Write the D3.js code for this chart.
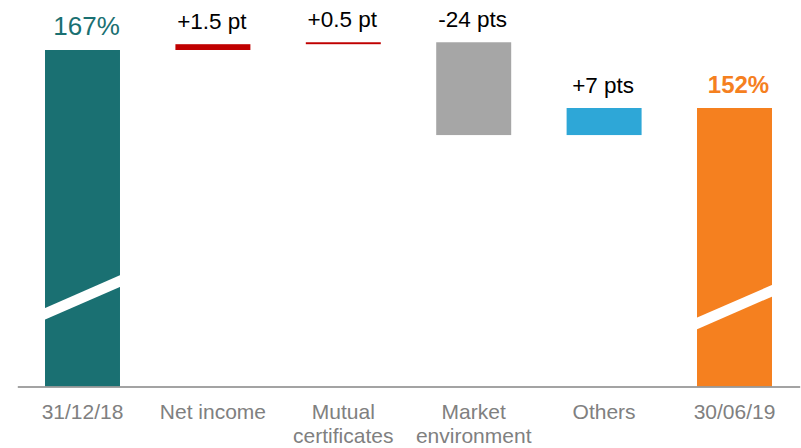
<!DOCTYPE html>
<html><head><meta charset="utf-8">
<script src="https://cdn.jsdelivr.net/npm/d3@7"></script>
<style>
html,body{margin:0;padding:0;background:#fff;}
svg text{font-family:"Liberation Sans",Arial,sans-serif;}
</style></head>
<body>
<svg id="chart" width="801" height="448"></svg>
<script>
const categories = [["31/12/18"], ["Net income"], ["Mutual", "certificates"], ["Market", "environment"], ["Others"], ["30/06/19"]];
const kinds = ["total", "delta", "delta", "delta", "delta", "total"];
const values = [167, 1.5, 0.5, -24, 7, 152];
const valueLabels = ["167%", "+1.5 pt", "+0.5 pt", "-24 pts", "+7 pts", "152%"];
const colors = ["#1a7072", "#c00000", "#c00000", "#a6a6a6", "#2ea7d7", "#f5801f"];
const labelColors = ["#1a7072", "#000000", "#000000", "#000000", "#000000", "#f5801f"];
const yDomain = [80, 167];
const breakValues = [103, 100.5];

const svg = d3.select("#chart");
const x = d3.scaleBand().domain(d3.range(categories.length)).range([17.3, 799.7]).paddingInner(0.425).paddingOuter(0.2125);
const y = d3.scaleLinear().domain(yDomain).range([386.4, 50]);

let running = 0;
const bars = values.map((v, i) => {
  let lo, hi;
  if (kinds[i] === "total") { lo = yDomain[0]; hi = v; running = v; }
  else { const s = running; running = s + v; lo = Math.min(s, running); hi = Math.max(s, running); }
  return {i, lo, hi};
});

svg.selectAll("rect.bar").data(bars).enter().append("rect")
  .attr("class", "bar")
  .attr("x", d => x(d.i)).attr("width", x.bandwidth())
  .attr("y", d => y(d.hi)).attr("height", d => y(d.lo) - y(d.hi))
  .attr("fill", d => colors[d.i]);

const totals = bars.filter(d => kinds[d.i] === "total");
svg.selectAll("path.brk").data(totals).enter().append("path")
  .attr("class", "brk")
  .attr("fill", "#fff")
  .attr("d", (d, k) => {
    const x0 = x(d.i) - 1, x1 = x(d.i) + x.bandwidth() + 1;
    const yc = y(breakValues[k]);
    const half = 16.8, th = 5.85;
    return `M${x0},${yc + half - th}L${x1},${yc - half - th}L${x1},${yc - half + th}L${x0},${yc + half + th}Z`;
  });

svg.selectAll("text.val").data(bars).enter().append("text")
  .attr("class", "val")
  .attr("x", d => x(d.i) + x.bandwidth() / 2)
  .attr("dx", d => kinds[d.i] === "total" ? 4 : -1)
  .attr("y", d => y(d.hi) - 15)
  .attr("text-anchor", "middle")
  .attr("fill", d => labelColors[d.i])
  .attr("font-size", d => d.i === 0 ? 26 : (d.i === 5 ? 24 : 22.5))
  .attr("font-weight", d => d.i === 5 ? "bold" : "normal")
  .text(d => valueLabels[d.i]);

const axis = d3.axisBottom(x).tickSize(0).tickFormat(() => "");
const g = svg.append("g").attr("transform", "translate(0,386.5)").call(axis);
g.select(".domain").attr("stroke", "#858585").attr("stroke-width", 1.5);
g.selectAll(".tick text").remove();
g.selectAll(".tick").each(function(d) {
  const t = d3.select(this).append("text")
    .attr("text-anchor", "middle")
    .attr("fill", "#808080")
    .attr("font-size", 21)
    .attr("y", 32.5);
  categories[d].forEach((line, j) => {
    t.append("tspan").attr("x", 0).attr("dy", j === 0 ? 0 : 24).text(line);
  });
});
</script>
</body></html>
